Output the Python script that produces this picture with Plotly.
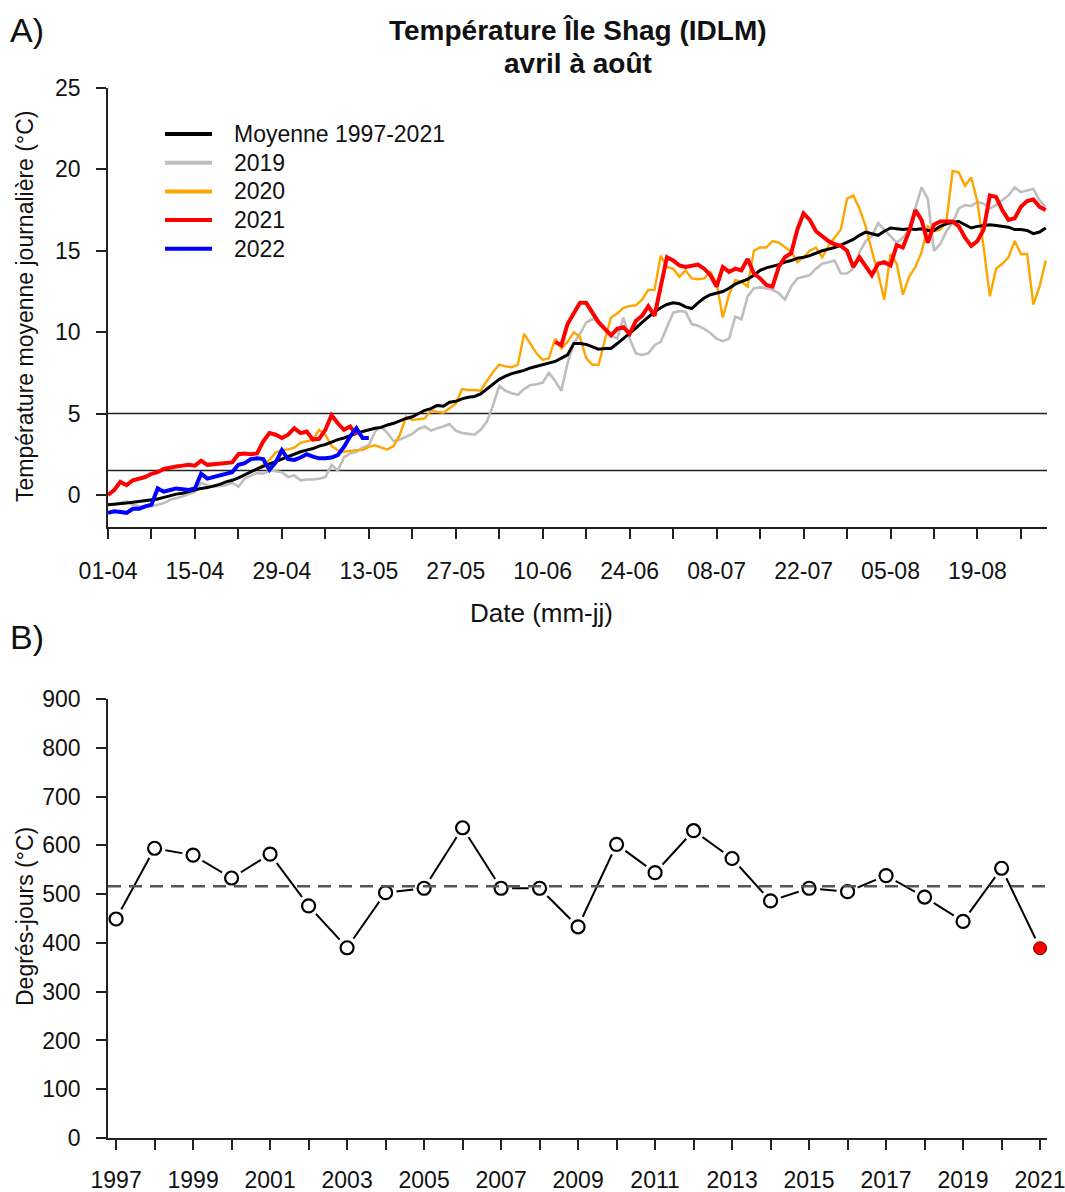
import plotly.graph_objects as go

# ---------------- Panel A data (daily mean temperature, day 0 = 1 April) ----------------
days = list(range(152))

mean_1997_2021 = [
    -0.6, -0.58, -0.55, -0.5, -0.45, -0.4, -0.35, -0.3, -0.25, -0.15,
    -0.05, 0.05, 0.1, 0.2, 0.3, 0.4, 0.45, 0.55, 0.65, 0.8,
    0.9, 1.05, 1.25, 1.4, 1.6, 1.75, 1.9, 2.05, 2.2, 2.35,
    2.5, 2.65, 2.75, 2.85, 3.0, 3.1, 3.25, 3.4, 3.5, 3.65,
    3.8, 3.9, 4.0, 4.1, 4.15, 4.3, 4.4, 4.55, 4.7, 4.8,
    5.0, 5.2, 5.3, 5.5, 5.45, 5.7, 5.75, 5.9, 6.0, 6.05,
    6.2, 6.5, 6.85, 7.1, 7.3, 7.45, 7.55, 7.65, 7.8, 7.9,
    8.0, 8.1, 8.2, 8.4, 8.6, 9.3, 9.3, 9.25, 9.1, 8.95,
    9.0, 9.0, 9.3, 9.6, 9.9, 10.25, 10.6, 10.95, 11.25, 11.5,
    11.7, 11.8, 11.75, 11.55, 11.45, 11.8, 12.1, 12.3, 12.4, 12.5,
    12.7, 12.95, 13.1, 13.25, 13.5, 13.8, 13.95, 14.05, 14.15, 14.3,
    14.4, 14.55, 14.6, 14.7, 14.85, 15.0, 15.1, 15.2, 15.35, 15.5,
    15.7, 15.95, 16.15, 16.05, 15.95, 16.2, 16.4, 16.35, 16.3, 16.35,
    16.3, 16.35, 16.25, 16.25, 16.5, 16.65, 16.75, 16.8, 16.6, 16.4,
    16.5, 16.55, 16.6, 16.55, 16.5, 16.45, 16.3, 16.3, 16.25, 16.05, 16.15, 16.4,
]

t2019 = [
    -0.55, -0.6, -0.5, -0.4, -0.6, -0.7, -0.75, -0.7, -0.6, -0.5,
    -0.3, -0.2, -0.1, 0.05, 0.2, 0.75, 0.6, 0.5, 0.55, 0.6,
    0.75, 0.5, 1.0, 1.2, 1.35, 1.3, 1.5, 1.45, 1.4, 1.1,
    1.2, 0.9, 0.95, 0.95, 1.0, 1.1, 1.85, 1.5, 2.3, 2.55,
    2.65, 2.9, 3.05, 3.9, 4.2, 3.8, 3.3, 3.4, 3.6, 3.75,
    4.05, 4.2, 3.95, 4.1, 4.2, 4.35, 3.95, 3.8, 3.75, 3.7,
    4.0, 4.5, 5.5, 6.7, 6.4, 6.25, 6.15, 6.5, 6.75, 6.8,
    6.9, 7.5, 7.0, 6.4, 8.1, 9.3, 9.9, 10.6, 10.8, 10.7,
    10.2, 9.8, 9.6, 10.9, 9.6, 8.7, 8.6, 8.7, 9.2, 9.4,
    10.3, 11.2, 11.3, 11.25, 10.5, 10.4, 10.2, 9.95, 9.6, 9.45,
    9.6, 10.95, 10.8, 12.2, 12.7, 12.75, 12.7, 12.6, 12.4, 12.0,
    12.8, 13.3, 13.4, 13.5, 13.9, 14.2, 14.3, 14.4, 13.6, 13.6,
    13.9, 14.9, 15.6, 15.9, 16.7, 16.3, 15.9, 15.5, 15.8, 16.3,
    17.6, 18.9, 18.2, 15.0, 15.4, 16.2, 16.7, 17.6, 17.8, 17.75,
    18.0, 17.9, 17.6, 17.8, 18.1, 18.4, 18.9, 18.6, 18.7, 18.8, 18.1, 17.7,
]

t2020 = [None] * 24 + [
    1.6, 1.9, 2.15, 2.6, 2.75, 2.8,
    2.9, 3.2, 3.3, 3.4, 4.0, 3.7, 3.0, 2.75, 2.65, 2.7,
    2.75, 2.75, 2.95, 3.05, 2.9, 2.8, 3.0, 3.7, 4.8, 4.6,
    4.65, 4.7, 5.2, 5.1, 5.05, 5.3, 5.6, 6.5, 6.45, 6.45,
    6.4, 7.0, 7.55, 8.0, 7.9, 7.85, 8.0, 9.9, 9.3, 8.7,
    8.3, 8.4, 9.6, 9.0, 9.4, 10.0, 9.7, 8.4, 8.0, 8.0,
    9.5, 10.9, 11.15, 11.5, 11.6, 11.65, 12.0, 12.6, 12.6, 14.7,
    14.0, 13.9, 13.4, 13.8, 13.3, 13.25, 13.3, 13.7, 13.0, 10.9,
    12.3, 13.2, 13.1, 12.8, 15.0, 15.2, 15.2, 15.6, 15.5, 15.2,
    14.95, 14.3, 14.6, 15.0, 15.2, 14.6, 15.3, 15.8, 16.3, 18.2,
    18.4, 17.6, 16.5, 15.0, 13.6, 12.0, 14.8, 14.2, 12.3, 13.4,
    14.0, 14.9, 16.5, 16.2, 16.3, 16.8, 19.9, 19.8, 19.0, 19.5,
    18.0, 15.2, 12.2, 13.9, 14.2, 14.6, 15.6, 14.8, 14.8, 11.7, 12.8, 14.4,
]

t2021 = [
    0.0, 0.3, 0.8, 0.6, 0.9, 1.0, 1.1, 1.3, 1.4, 1.6,
    1.7, 1.75, 1.8, 1.85, 1.8, 2.1, 1.85, 1.9, 1.95, 1.95,
    2.0, 2.5, 2.55, 2.5, 2.55, 3.3, 3.8, 3.7, 3.5, 3.7,
    4.1, 3.8, 3.9, 3.4, 3.45, 4.0, 4.9, 4.4, 4.0, 4.2,
    3.7,
] + [None] * 31 + [
    9.4, 9.2, 10.5, 11.2, 11.8, 11.8, 11.2, 10.6,
    10.2, 9.8, 10.2, 10.3, 9.9, 10.7, 11.0, 11.6, 11.0, 12.9,
    14.6, 14.4, 14.1, 14.0, 14.1, 14.15, 13.9, 13.5, 12.8, 14.0,
    13.7, 13.9, 13.8, 14.5, 13.6, 13.3, 12.9, 12.8, 14.0, 14.6,
    14.85, 16.3, 17.3, 16.9, 16.2, 15.9, 15.6, 15.4, 15.3, 15.0,
    14.0, 14.6, 14.0, 13.5, 14.2, 14.3, 14.1, 15.35, 15.2, 16.2,
    17.5, 16.9, 15.5, 16.6, 16.8, 16.8, 16.8, 16.5, 15.8, 15.3,
    15.6, 16.3, 18.4, 18.3, 17.5, 16.9, 17.0, 17.7, 18.05, 18.15, 17.7, 17.5,
]

t2022 = [
    -1.1, -1.0, -1.05, -1.1, -0.85, -0.85, -0.7, -0.6, 0.4, 0.2,
    0.3, 0.4, 0.35, 0.3, 0.4, 1.3, 1.0, 1.1, 1.2, 1.35,
    1.4, 1.85, 1.95, 2.2, 2.25, 2.2, 1.55, 2.0, 2.75, 2.2,
    2.15, 2.3, 2.5, 2.35, 2.25, 2.25, 2.3, 2.45, 2.95, 3.6,
    4.1, 3.5, 3.5,
]

ref_levels = [1.5, 5]

tick_days = list(range(0, 148, 7))
tick_day_labels = ["01-04", "", "15-04", "", "29-04", "", "13-05", "", "27-05", "",
                   "10-06", "", "24-06", "", "08-07", "", "22-07", "", "05-08", "",
                   "19-08", ""]
temp_ticks = [0, 5, 10, 15, 20, 25]

# ---------------- Panel B data (degree-days, April-August) ----------------
years = list(range(1997, 2022))
degree_days = [449, 594, 580, 533, 582, 476, 390, 503, 512, 636,
               512, 512, 433, 602, 544, 630, 573, 486, 512, 505,
               538, 494, 444, 553, 389]
mean_dd = 516
year_labels = [str(y) if y % 2 == 1 else "" for y in years]
dd_ticks = [0, 100, 200, 300, 400, 500, 600, 700, 800, 900]

# ---------------- Figure ----------------
W, H = 1065, 1192
FONT = "Liberation Sans, Arial, sans-serif"
AX = "#222222"
TXT = "#111111"

def px_x(p):
    return p / W

def px_y(p):
    return 1 - p / H

fig = go.Figure()

# (legend label, values, colour, width, legend row)
series = [
    ("2019", t2019, "#BEBEBE", 2.6, 1),
    ("2020", t2020, "#FFA500", 2.4, 2),
    ("Moyenne 1997-2021", mean_1997_2021, "#000000", 3.0, 0),
    ("2021", t2021, "#FF0000", 4.0, 3),
    ("2022", t2022, "#0000FF", 4.0, 4),
]
for name, vals, col, w, row in series:
    fig.add_trace(go.Scatter(
        x=days[:len(vals)], y=vals, mode="lines", name=name,
        line=dict(color=col, width=w), connectgaps=False,
        showlegend=False, xaxis="x", yaxis="y",
    ))

# Panel B
fig.add_trace(go.Scatter(x=years, y=degree_days, mode="lines",
                         line=dict(color="black", width=2),
                         showlegend=False, xaxis="x2", yaxis="y2"))
fig.add_trace(go.Scatter(x=years, y=degree_days, mode="markers",
                         marker=dict(size=22, color="white", line=dict(width=0)),
                         showlegend=False, hoverinfo="skip", xaxis="x2", yaxis="y2"))
fig.add_trace(go.Scatter(x=years[:-1], y=degree_days[:-1], mode="markers",
                         marker=dict(size=13, symbol="circle-open", color="black",
                                     line=dict(width=2.2)),
                         showlegend=False, xaxis="x2", yaxis="y2"))
fig.add_trace(go.Scatter(x=years[-1:], y=degree_days[-1:], mode="markers",
                         marker=dict(size=13, symbol="circle", color="#FF0000",
                                     line=dict(width=1, color="#550000")),
                         showlegend=False, xaxis="x2", yaxis="y2"))

shapes = []
for lv in ref_levels:
    shapes.append(dict(type="line", xref="x domain", x0=0, x1=1, yref="y",
                       y0=lv, y1=lv, line=dict(color=AX, width=1.5), layer="below"))
shapes.append(dict(type="line", xref="x2 domain", x0=0, x1=1, yref="y2",
                   y0=mean_dd, y1=mean_dd,
                   line=dict(color="#555555", width=2.6, dash="13px,8px"), layer="above"))

annotations = []
# legend drawn manually (line sample + label), in legend order
leg_x0, leg_x1, leg_text_x, leg_y0, leg_dy = 165, 212, 232, 134, 28.7
for name, vals, col, w, row in series:
    yy = leg_y0 + row * leg_dy
    shapes.append(dict(type="line", xref="paper", yref="paper",
                       x0=px_x(leg_x0), x1=px_x(leg_x1), y0=px_y(yy), y1=px_y(yy),
                       line=dict(color=col, width=4)))
    annotations.append(dict(text=name, x=px_x(leg_text_x), y=px_y(yy), xref="paper",
                            yref="paper", xanchor="left", yanchor="middle", showarrow=False,
                            font=dict(size=23, family=FONT, color=TXT)))

axis_common = dict(showline=True, linecolor=AX, linewidth=1.5, ticks="outside",
                   ticklen=10, tickwidth=1.5, tickcolor=AX, showgrid=False,
                   zeroline=False, automargin=False, ticklabeloverflow="allow",
                   tickfont=dict(size=23, color=TXT, family=FONT))

dom_x = [px_x(108), px_x(1047)]
fig.update_layout(
    width=W, height=H, margin=dict(l=0, r=0, t=0, b=0, autoexpand=False),
    paper_bgcolor="white", plot_bgcolor="white",
    font=dict(family=FONT, color=TXT), showlegend=False,
    xaxis=dict(domain=dom_x, range=[0, 151.2], tickvals=tick_days,
               ticktext=tick_day_labels, anchor="y", ticklabelstandoff=13, **axis_common),
    yaxis=dict(domain=[px_y(527), px_y(88)], range=[-1.97, 25], tickvals=temp_ticks,
               anchor="x", ticklabelstandoff=11, **axis_common),
    xaxis2=dict(domain=dom_x, range=[1996.79, 2021.18], tickvals=years,
                ticktext=year_labels, anchor="y2", ticklabelstandoff=11, **axis_common),
    yaxis2=dict(domain=[px_y(1138), px_y(699)], range=[0, 900], tickvals=dd_ticks,
                anchor="x2", ticklabelstandoff=11, **axis_common),
    shapes=shapes,
)

ann = [
    dict(text="<b>Température Île Shag (IDLM)</b>", x=px_x(578), y=px_y(30), size=28),
    dict(text="<b>avril à août</b>", x=px_x(578), y=px_y(63), size=28),
    dict(text="Date (mm-jj)", x=px_x(541), y=px_y(613), size=26),
]
for a in ann:
    annotations.append(dict(text=a["text"], x=a["x"], y=a["y"], xref="paper", yref="paper",
                            xanchor="center", yanchor="middle", showarrow=False,
                            font=dict(size=a["size"], family=FONT, color=TXT)))
for txt, yy in [("A)", 30), ("B)", 637)]:
    annotations.append(dict(text=txt, x=px_x(8), y=px_y(yy), xref="paper", yref="paper",
                            xanchor="left", yanchor="middle", showarrow=False,
                            font=dict(size=34, family=FONT, color=TXT)))
for txt, yy in [("Température moyenne journalière (°C)", 307), ("Degrés-jours (°C)", 917)]:
    annotations.append(dict(text=txt, x=px_x(25), y=px_y(yy), xref="paper", yref="paper",
                            xanchor="center", yanchor="middle", textangle=-90, showarrow=False,
                            font=dict(size=23, family=FONT, color=TXT)))
fig.update_layout(annotations=annotations)

fig.write_html("out.html")
